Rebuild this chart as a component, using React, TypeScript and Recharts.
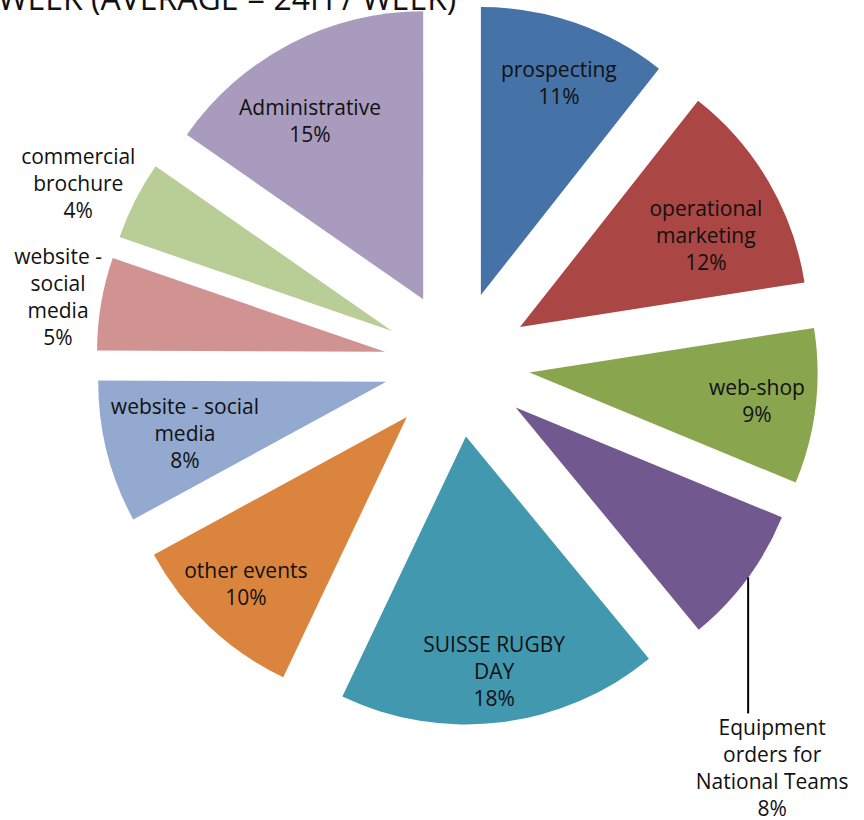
import React from 'react';
import { PieChart, Pie, Cell } from 'recharts';

// share of working hours per activity (clockwise from 12 o'clock), in %
const categories = [
  'prospecting',
  'operational marketing',
  'web-shop',
  'Equipment orders for National Teams',
  'SUISSE RUGBY DAY',
  'other events',
  'website - social media',
  'website - social media',
  'commercial brochure',
  'Administrative',
];
const shares = [10.6, 11.9, 8.7, 7.8, 18.0, 10.0, 8.0, 5.2, 4.4, 15.3];
const labelLines = [
  ['prospecting'],
  ['operational', 'marketing'],
  ['web-shop'],
  ['Equipment', 'orders for', 'National Teams'],
  ['SUISSE RUGBY', 'DAY'],
  ['other events'],
  ['website - social', 'media'],
  ['website -', 'social', 'media'],
  ['commercial', 'brochure'],
  ['Administrative'],
];

const COLORS = ['#4572A7', '#AA4643', '#89A54E', '#71588F', '#4198AF', '#DB843D', '#93A9CF', '#D19392', '#B9CD96', '#A99BBD'];
const PLACEMENT = ['inside', 'inside', 'inside', 'callout', 'inside', 'inside', 'inside', 'outside', 'outside', 'inside'];
// label distance (fraction of radius) and angle nudge, per slice
const LABEL_R = [0.784, 0.719, 0.796, 1, 0.824, 0.807, 0.722, 1.151, 1.203, 0.732];
const LABEL_SHIFT = [-1.1, -4.2, -0.4, 0.3, -0.2, -0.4, 0.4, 0.2, 1.8, 4.9];

const W = 864;
const H = 820;
const CX = 457;
const CY = 364;
const R = 288;
const EXPLODE = 73;
const FONT = '"Open Sans", sans-serif';
const FS = 21;
const LH = 27;
const RAD = Math.PI / 180;

const data = categories.map((name, i) => ({ name, value: shares[i] }));
const total = shares.reduce((a, b) => a + b, 0);

// mid angle of every slice, used to push each slice out from the centre
const midAngles = shares.map((v, i) => {
  const before = shares.slice(0, i).reduce((a, b) => a + b, 0);
  const a0 = 90 - (360 * before) / total;
  return a0 - (180 * v) / total;
});

const polar = (cx: number, cy: number, r: number, angle: number) => ({
  x: cx + r * Math.cos(-angle * RAD),
  y: cy + r * Math.sin(-angle * RAD),
});

const lines = (i: number) => [...labelLines[i], `${Math.round((shares[i] / total) * 100)}%`];

const renderLabel = (slice: number) => (props: any) => {
  const { cx, cy, midAngle, outerRadius, index } = props;
  if (index !== slice) return <g />;
  const txt = lines(index);
  const angle = midAngle + LABEL_SHIFT[index];

  if (PLACEMENT[index] === 'callout') {
    const start = polar(cx, cy, outerRadius, angle);
    const endY = start.y + 136;
    const tx = start.x + 24;
    return (
      <g>
        <line x1={start.x} y1={start.y} x2={start.x} y2={endY} stroke="#000" strokeWidth={2} />
        <text x={tx} y={endY + 22} textAnchor="middle" fontFamily={FONT} fontSize={FS} fill="#111">
          {txt.map((t, k) => (
            <tspan key={k} x={tx} dy={k === 0 ? 0 : LH}>{t}</tspan>
          ))}
        </text>
      </g>
    );
  }

  const p = polar(cx, cy, outerRadius * LABEL_R[index], angle);
  const firstY = p.y - ((txt.length - 1) * LH) / 2 + FS * 0.33;
  return (
    <text x={p.x} y={firstY} textAnchor="middle" fontFamily={FONT} fontSize={FS} fill="#111">
      {txt.map((t, k) => (
        <tspan key={k} x={p.x} dy={k === 0 ? 0 : LH}>{t}</tspan>
      ))}
    </text>
  );
};

export default function App() {
  return (
    <div style={{ position: 'absolute', left: 0, top: 0, width: W, height: H, background: '#fff' }}>
      <PieChart width={W} height={H} margin={{ top: 0, right: 0, bottom: 0, left: 0 }}>
        {midAngles.map((mid, i) => {
          const off = polar(0, 0, EXPLODE, mid);
          return (
            <Pie
              key={i}
              data={data}
              dataKey="value"
              nameKey="name"
              cx={CX + off.x}
              cy={CY + off.y}
              outerRadius={R}
              startAngle={90}
              endAngle={-270}
              stroke="none"
              labelLine={false}
              label={renderLabel(i)}
              isAnimationActive={false}
            >
              {data.map((_, k) => (
                <Cell key={k} fill={k === i ? COLORS[k] : 'transparent'} />
              ))}
            </Pie>
          );
        })}
      </PieChart>
      <svg width={W} height={40} style={{ position: 'absolute', left: 0, top: 0 }}>
        <text x={-2} y={10} fontFamily={FONT} fontSize={32} fill="#111">
          WEEK (AVERAGE = 24H / WEEK)
        </text>
      </svg>
    </div>
  );
}
